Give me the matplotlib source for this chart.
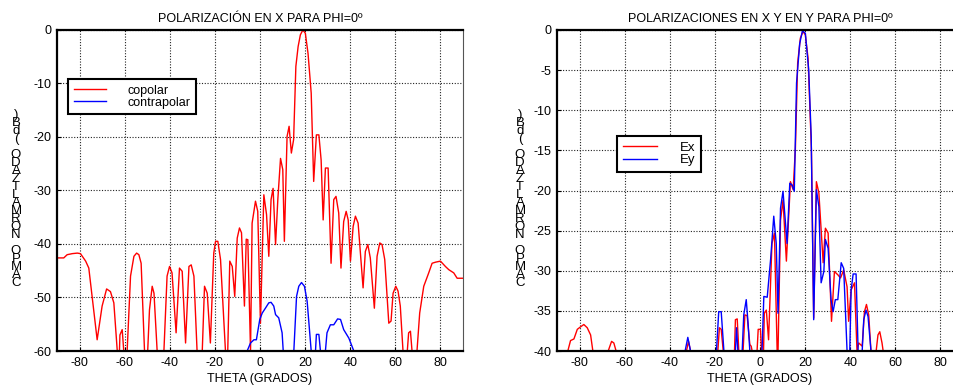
import numpy as np
import matplotlib
matplotlib.use("Agg")
import matplotlib.pyplot as plt

plt.rcParams["font.family"] = ["Liberation Sans", "DejaVu Sans"]
plt.rcParams["font.size"] = 9
plt.rcParams["axes.unicode_minus"] = False

# --- left panel: copolar / contrapolar (dB), values below -60 are clipped
theta_co = [-90, -87, -85.5, -83.2, -81, -79.6, -77.3, -75.9, -72.2, -70, -68, -66.3, -64.8, -63.3,
            -62.6, -62.1, -61.1, -60.4, -59.6, -58.9, -57.4, -55.9, -54.7, -53.7, -52.7, -51.2,
            -50.2, -49, -47.8, -47, -45.6, -44, -42.6, -41.2, -40.1, -39, -37.2, -35.7, -34.5, -33,
            -31.5, -30.5, -29.3, -27.9, -26.8, -25.6, -24.6, -23.4, -22, -20.5, -19.7, -18.7, -17.5,
            -15.3, -14.8, -14.3, -13.4, -12.3, -11.2, -10.1, -9.1, -8.2, -6.9, -6.1, -5.4, -4.2,
            -3.5, -2, -1, 0.2, 1.7, 2.9, 3.9, 4.9, 5.8, 6.9, 7.9, 9.1, 10.1, 10.8, 12, 12.9, 13.9,
            14.9, 15.9, 16.9, 17.9, 19, 20.1, 21.3, 22.7, 23.8, 25, 26.1, 27.1, 28, 29, 30.2, 31.5,
            32.7, 33.7, 34.9, 35.9, 37.1, 38.2, 39.1, 40.1, 41.3, 42.3, 43.5, 45.7, 46.7, 47.8,
            48.9, 50.7, 51.9, 53.1, 54.1, 55.3, 57.1, 58.1, 59, 60.2, 61.2, 62.2, 63.4, 64.6, 65.3,
            65.9, 66.7, 67.4, 68.5, 69.6, 70.8, 72.6, 74.8, 76.3, 77.8, 80, 82.2, 83.7, 85.9, 87.4, 90]
db_co = [-42.6, -42.6, -42, -41.8, -41.7, -41.8, -43.2, -44.5, -57.9, -51.6, -48.4, -48.9, -51, -60,
         -64, -57, -56, -60, -64, -60, -46, -42.3, -41.7, -42, -43.6, -60,
         -64, -52.3, -47.9, -49.2, -60, -65, -60, -46, -44.2, -45.4, -56.6, -44.5, -45.1, -58.5,
         -44.2, -43.9, -46, -60, -65, -60, -47.9, -49.2, -58.5, -41.7, -39.5, -39.5, -42.9,
         -60, -64, -60, -43.2, -44.2, -49.8, -38.9, -37, -37.9, -51.6, -39.1, -39.2, -60,
         -36.1, -32, -33.9, -54.8, -30.8, -34.5, -42.3, -31.7, -29.6, -40.1, -31.7, -24, -26.1,
         -39.5, -19.9, -18, -23, -20.5, -6.8, -3.1, -0.9, 0, -0.6, -4.4, -11.8, -28.3, -19.6,
         -19.6, -24.3, -35.5, -25.8, -25.8, -43.6, -31.7, -31.1, -34.2, -44.5, -35.8, -33.9,
         -35.5, -43.2, -36.7, -34.8, -36.1, -48.2, -41.4, -40.1, -42.6, -52, -42.3, -39.8, -40.1,
         -42.9, -54.8, -54.4, -49.2, -47.9, -48.8, -51.6, -60, -64, -60, -56.6, -56.3, -60, -64,
         -60, -52.9, -47.9, -45.4, -43.6, -43.4, -43.2, -44.2, -44.8, -45.4, -46.4, -46.4]

theta_cx = [-5.7, -4.2, -2.7, -1.6, -0.1, 1, 2.4, 3.9, 4.9, 6.1, 6.9, 8.3, 9.8, 10.3, 12.5,
            15, 16.2, 17.2, 18.4, 19.7, 20.9, 22.7, 23.6, 24.6, 25, 26.1, 26.8, 28,
            29, 29.7, 31.2, 32.7, 34.4, 35.7, 37.1, 39.4, 41.6]
db_cx = [-60, -58.5, -57.9, -57.9, -54.1, -52.9, -52, -51, -50.9, -51.6, -53.2, -53.8, -56.6, -60, -66,
         -60, -49.8, -47.9, -47.2, -47.9, -50.7, -60, -64, -60, -56.9, -56.9, -60, -64,
         -60, -56.6, -55.1, -55.1, -54, -54.1, -56, -57.6, -60]

# --- right panel: Ex / Ey (dB), values below -40 are clipped
theta_ex = [-89.6, -85.2, -84, -82.5, -81, -79.6, -78.1, -76.6, -75.1, -74.1, -70, -67.3, -65.8,
            -64.8, -63.8, -50, -32.6, -31.7, -30.8, -25, -18.7, -18, -17.2, -16.3, -14, -11.3,
            -10.9, -10.1, -9.4, -8.4, -7.5, -6.7, -5.7, -4.5, -3.9, -3.5, -2.4, -1.3, -0.8, 0.2,
            0.7, 1.3, 1.9, 2.8, 3.8, 5.3, 6.4, 7.6, 7.8, 8, 9.1, 10.2, 11.7, 13.5, 14.7, 15.7,
            16.7, 17.9, 19.1, 20.1, 21.3, 22.8, 23.8, 25, 26.1, 28, 29, 30.2, 31.7, 33, 34.5,
            35.7, 37.1, 38.6, 39.3, 40.4, 41.9, 43, 43.8, 45.3, 46.3, 47.2, 48.2, 49.2, 50.3,
            51.5, 52.3, 53.1, 54.1, 54.6, 60]
db_ex = [-40, -40, -38.7, -38.5, -37.3, -37, -36.7, -37.1, -38, -40, -44, -40, -38.8,
         -39, -40, -45, -40, -38.8, -40, -45, -40, -37.1, -37.3, -40, -44, -40,
         -36.1, -36, -40, -44, -40, -35.5, -35.6, -39.2, -39.4, -40, -44, -40, -37.3, -37.3,
         -40, -44, -35.3, -34.9, -38.6, -26.6, -25.3, -40, -44, -40, -23.7, -21.2, -28.8, -18.9,
         -19.9, -14.7, -4.1, -1, -0.2, -0.6, -3.5, -14.9, -35.9, -18.9, -20.3, -29, -24.7, -25.3,
         -36.3, -30.1, -30.5, -30.9, -29.9, -32, -36.3, -32.4, -31.5, -40, -39, -39.4, -35.1,
         -34.2, -35.5, -40, -44, -40, -38, -37.6, -39, -40, -45]

theta_ey = [-33.2, -32, -30.8, -25, -19.3, -18.3, -17.2, -16, -13, -10.9, -10.4, -9.8, -8.8,
            -7.9, -7.2, -6.1, -5.3, -4.5, -2, 0.9, 1.7, 3.2, 4.7, 6.1, 7.2, 8, 9.1, 10.2, 12, 13.2,
            14.2, 15.2, 16.2, 17.6, 18.8, 20.1, 21.6, 22.7, 23.8, 25, 26.1, 27.1, 28.3, 29, 30.2,
            31.5, 32.4, 33.4, 34.5, 36, 37.1, 38.6, 39.2, 39.8, 40.4, 41.3, 42.6, 43.5, 44.4,
            45.3, 46, 47, 47.9, 49.2, 55]
db_ey = [-40, -38.3, -40, -45, -40, -35.1, -35.1, -40, -45, -40, -37.1, -40, -44,
         -40, -35.5, -33.6, -36.5, -40, -45, -40, -33.2, -33.3, -28.6, -23.2, -26.6, -35.3, -22.2,
         -20.1, -26.6, -19.1, -19.3, -20.1, -6.6, -1.7, -0.1, -0.4, -5, -13.3, -36.1, -19.9, -22,
         -31.5, -30.1, -26.1, -27.2, -33.6, -35.1, -33.6, -33.6, -29, -29.7, -40, -44, -40,
         -32.4, -30.4, -30.4, -40, -44, -40, -36.1, -34.9, -35.7, -40, -45]

xticks = [-80, -60, -40, -20, 0, 20, 40, 60, 80]
yticks_left = [-60, -50, -40, -30, -20, -10, 0]
yticks_right = [-40, -35, -30, -25, -20, -15, -10, -5, 0]

ylabel = "CAMPO NORMALIZADO (dB)"
stacked = "\n".join(reversed(ylabel))

fig = plt.figure(figsize=(9.54, 3.87), dpi=100)
ax1 = fig.add_axes([57 / 954, 36 / 387, 406 / 954, 321 / 387])
ax2 = fig.add_axes([557 / 954, 36 / 387, 406 / 954, 321 / 387])


def style(ax, yticks, ylim):
    ax.set_xlim(-90, 90)
    ax.set_ylim(*ylim)
    ax.set_xticks(xticks)
    ax.set_yticks(yticks)
    ax.grid(True, color="#222222", linestyle=(0, (1, 1.5)), linewidth=0.8)
    ax.tick_params(direction="in", length=3, width=0.8, labelsize=9, colors="black", pad=4)
    for side in ("left", "top", "bottom"):
        ax.spines[side].set_linewidth(1.6)
        ax.spines[side].set_color("black")
    ax.spines["right"].set_linewidth(0.8)
    ax.spines["right"].set_color("#555555")
    ax.set_xlabel("THETA (GRADOS)", fontsize=9, labelpad=3)


leg_kw = dict(loc="upper left", fancybox=False, edgecolor="black", framealpha=1,
              handlelength=2.6, handletextpad=1.7, labelspacing=0.0, borderpad=0.45,
              borderaxespad=0)

ax1.plot(theta_co, db_co, color="#ff0000", lw=1.0, label="copolar")
ax1.plot(theta_cx, db_cx, color="#0000ff", lw=1.0, label="contrapolar")
style(ax1, yticks_left, (-60, 0))
ax1.set_title("POLARIZACIÓN EN X PARA PHI=0º", fontsize=9, pad=6)
leg1 = ax1.legend(bbox_to_anchor=(0.027, 0.847), fontsize=9, **leg_kw)
leg1.get_frame().set_linewidth(1.5)

ax2.plot(theta_ex, db_ex, color="#ff0000", lw=1.0, label="Ex")
ax2.plot(theta_ey, db_ey, color="#0000ff", lw=1.0, label="Ey")
style(ax2, yticks_right, (-40, 0))
ax2.set_title("POLARIZACIONES EN X Y EN Y PARA PHI=0º", fontsize=9, pad=6)
leg2 = ax2.legend(bbox_to_anchor=(0.148, 0.670), fontsize=9.5, **leg_kw)
leg2.get_frame().set_linewidth(1.5)

# stacked, reversed y label as in the original export
for xpix in (16, 520):
    fig.text(xpix / 954, 1 - 199 / 387, stacked, ha="center", va="center",
             fontsize=9.5, linespacing=0.56)

fig.savefig("out.png", dpi=100)
